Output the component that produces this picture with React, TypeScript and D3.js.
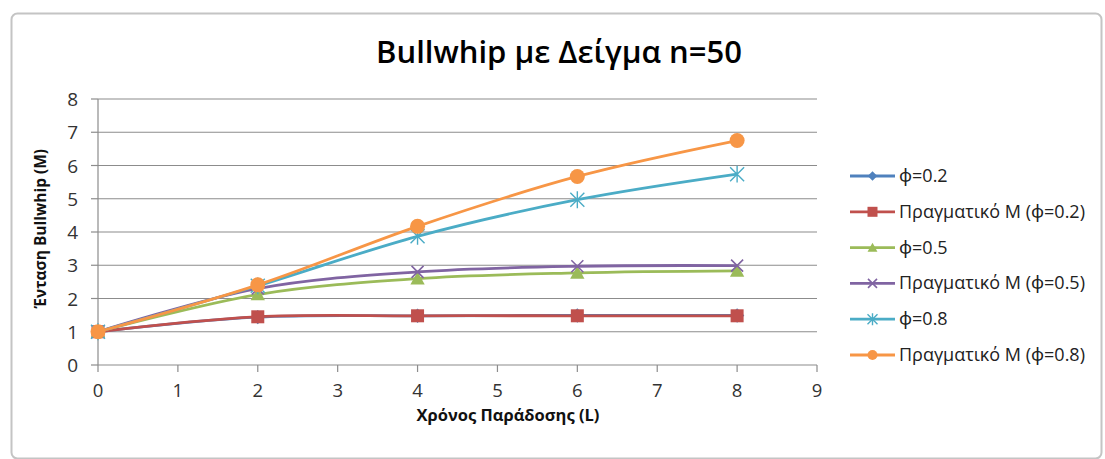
import React from 'react';
import * as d3 from 'd3';

const leadTimes = [0, 2, 4, 6, 8];
const seriesNames = [
  'ϕ=0.2',
  'Πραγματικό M (ϕ=0.2)',
  'ϕ=0.5',
  'Πραγματικό M (ϕ=0.5)',
  'ϕ=0.8',
  'Πραγματικό M (ϕ=0.8)',
];
const phi02 = [1, 1.44, 1.48, 1.49, 1.49];
const realPhi02 = [1, 1.45, 1.48, 1.48, 1.48];
const phi05 = [1, 2.12, 2.6, 2.77, 2.83];
const realPhi05 = [1, 2.3, 2.8, 2.97, 2.99];
const phi08 = [1, 2.38, 3.87, 4.97, 5.74];
const realPhi08 = [1, 2.41, 4.17, 5.67, 6.75];
const xTicks = [0, 1, 2, 3, 4, 5, 6, 7, 8, 9];
const yTicks = [0, 1, 2, 3, 4, 5, 6, 7, 8];
const title = 'Bullwhip με Δείγμα n=50';
const xTitle = 'Χρόνος Παράδοσης (L)';
const yTitle = 'Ένταση Bullwhip (M)';

const seriesValues = [phi02, realPhi02, phi05, realPhi05, phi08, realPhi08];
const colors = ['#4F81BD', '#C0504D', '#9BBB59', '#8064A2', '#4BACC6', '#F79646'];
const markerTypes = ['diamond', 'square', 'triangle', 'x', 'star', 'circle'];

const FONT = "'Open Sans', 'Noto Sans', sans-serif";

function Marker({ type, x, y, s, color }: { type: string; x: number; y: number; s: number; color: string }) {
  const h = s / 2;
  if (type === 'diamond') {
    return <path d={`M${x},${y - h * 1.2}L${x + h * 1.2},${y}L${x},${y + h * 1.2}L${x - h * 1.2},${y}Z`} fill={color} />;
  }
  if (type === 'square') {
    return <rect x={x - h} y={y - h} width={s} height={s} fill={color} />;
  }
  if (type === 'triangle') {
    return <path d={`M${x},${y - h * 1.1}L${x + h * 1.1},${y + h * 0.9}L${x - h * 1.1},${y + h * 0.9}Z`} fill={color} />;
  }
  if (type === 'x') {
    return (
      <path d={`M${x - h},${y - h}L${x + h},${y + h}M${x - h},${y + h}L${x + h},${y - h}`} stroke={color} strokeWidth={1.6} fill="none" />
    );
  }
  if (type === 'star') {
    return (
      <path
        d={`M${x - h},${y - h}L${x + h},${y + h}M${x - h},${y + h}L${x + h},${y - h}M${x},${y - h * 1.2}L${x},${y + h * 1.2}`}
        stroke={color}
        strokeWidth={1.4}
        fill="none"
      />
    );
  }
  return <circle cx={x} cy={y} r={h} fill={color} />;
}

export default function App() {
  const W = 1105;
  const H = 459;
  const x = d3.scaleLinear().domain([0, 9]).range([98, 817]);
  const y = d3.scaleLinear().domain([0, 8]).range([365, 99]);
  const line = d3
    .line<number>()
    .x((_, i) => x(leadTimes[i]))
    .y((d) => y(d))
    .curve(d3.curveCatmullRom.alpha(0.5));

  const plotSizes = [12, 13, 13, 12, 14, 15];
  const legendSizes = [8, 10, 9, 9, 10, 10];
  const legendY0 = 176;
  const legendStep = 35.8;

  return (
    <svg width={W} height={H} style={{ position: 'absolute', left: 0, top: 0, display: 'block' }} fontFamily={FONT}>
      <rect x={0} y={0} width={W} height={H} fill="#ffffff" />
      <rect x={11.5} y={13.5} width={1090} height={445} rx={6} ry={6} fill="#ffffff" stroke="#c4c4c4" strokeWidth={2} />

      <text x={559} y={63} textAnchor="middle" fontSize={31} fontWeight={600} fill="#000">
        {title}
      </text>

      {/* gridlines */}
      {yTicks.filter((t) => t > 0).map((t) => (
        <line key={'g' + t} x1={x(0)} x2={x(9)} y1={y(t)} y2={y(t)} stroke="#8c8c8c" strokeWidth={1.2} />
      ))}
      {/* axes */}
      <line x1={x(0)} x2={x(0)} y1={y(0)} y2={y(8)} stroke="#8c8c8c" strokeWidth={1.2} />
      <line x1={x(0)} x2={x(9)} y1={y(0)} y2={y(0)} stroke="#8c8c8c" strokeWidth={1.2} />
      {yTicks.map((t) => (
        <g key={'y' + t}>
          <line x1={x(0) - 7} x2={x(0)} y1={y(t)} y2={y(t)} stroke="#8c8c8c" strokeWidth={1.2} />
          <text x={78} y={y(t) + 7} textAnchor="end" fontSize={19} fill="#333">
            {t}
          </text>
        </g>
      ))}
      {xTicks.map((t) => (
        <g key={'x' + t}>
          <line x1={x(t)} x2={x(t)} y1={y(0)} y2={y(0) + 7} stroke="#8c8c8c" strokeWidth={1.2} />
          <text x={x(t)} y={397} textAnchor="middle" fontSize={18.5} fill="#333">
            {t}
          </text>
        </g>
      ))}

      <text x={508} y={421} textAnchor="middle" fontSize={16.5} fontWeight={700} fill="#111">
        {xTitle}
      </text>
      <text
        transform={`translate(46, ${y(4.1)}) rotate(-90)`}
        textAnchor="middle"
        fontSize={15.5}
        fontWeight={700}
        fill="#111"
      >
        {yTitle}
      </text>

      {/* series */}
      {seriesValues.map((vals, si) => (
        <g key={'s' + si}>
          <path d={line(vals) || ''} fill="none" stroke={colors[si]} strokeWidth={2.8} strokeLinejoin="round" />
          {vals.map((v, i) => (
            <Marker key={i} type={markerTypes[si]} x={x(leadTimes[i])} y={y(v)} s={plotSizes[si]} color={colors[si]} />
          ))}
        </g>
      ))}

      {/* legend */}
      {seriesNames.map((name, si) => {
        const ly = legendY0 + si * legendStep;
        return (
          <g key={'l' + si}>
            <line x1={850} x2={895} y1={ly} y2={ly} stroke={colors[si]} strokeWidth={2.8} />
            <Marker type={markerTypes[si]} x={872.5} y={ly} s={legendSizes[si]} color={colors[si]} />
            <text x={899} y={ly + 6} fontSize={18} fill="#222">
              {name}
            </text>
          </g>
        );
      })}
    </svg>
  );
}
